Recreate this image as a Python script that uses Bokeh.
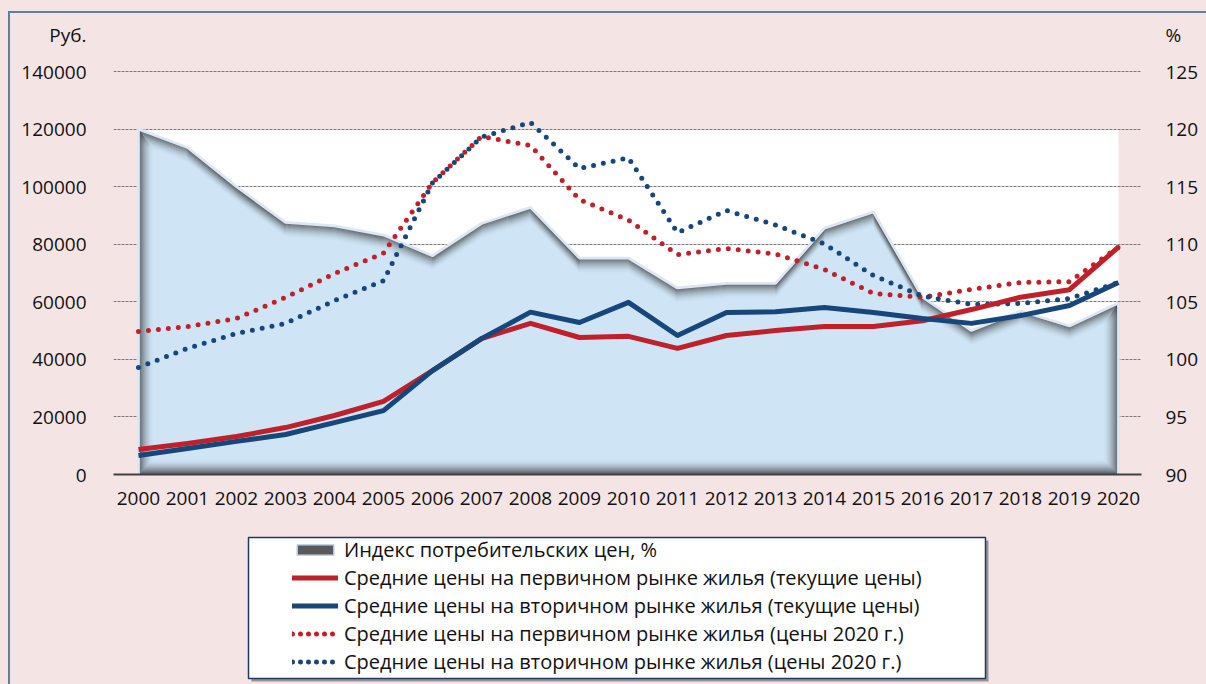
import numpy as np
from bokeh.plotting import figure
from bokeh.layouts import column
from bokeh.models import (Range1d, LinearAxis, FixedTicker, Legend, LegendItem, BasicTickFormatter)
from bokeh.embed import file_html
from bokeh.resources import INLINE

years = list(range(2000, 2021))
cpi = [120.0, 118.4, 115.0, 111.9, 111.6, 110.8, 109.0, 111.8, 113.2, 108.8, 108.8,
       106.2, 106.6, 106.6, 111.4, 112.8, 105.4, 102.5, 104.2, 102.9, 104.9]
prim_cur = [8700, 10800, 13200, 16300, 20500, 25400, 36100, 47200, 52500, 47600, 48000,
            43800, 48300, 50000, 51400, 51400, 53400, 57300, 61600, 64200, 79000]
sec_cur = [6600, 9000, 11500, 13900, 18000, 22200, 36100, 47200, 56400, 52800, 59800,
           48300, 56300, 56500, 58000, 56300, 54200, 52500, 55200, 58700, 66700]
prim_2020 = [49700, 51400, 54200, 61500, 69800, 76900, 101400, 117400, 114300, 95500, 88400,
             76400, 78500, 76600, 71200, 62900, 61600, 64300, 66700, 67000, 79000]
sec_2020 = [37200, 43800, 49000, 52500, 60400, 67300, 101300, 117200, 122300, 106300, 110000,
            84000, 91700, 86700, 80100, 69100, 62000, 59100, 59400, 61100, 66700]
left_ticks = [0, 20000, 40000, 60000, 80000, 100000, 120000, 140000]
right_ticks = [90, 95, 100, 105, 110, 115, 120, 125]
left_unit = "Руб."
right_unit = "%"
labels = ["Индекс потребительских цен, %",
          "Средние цены на первичном рынке жилья (текущие цены)",
          "Средние цены на вторичном рынке жилья (текущие цены)",
          "Средние цены на первичном рынке жилья (цены 2020 г.)",
          "Средние цены на вторичном рынке жилья (цены 2020 г.)"]

PINK = "#F5E4E4"
RED = "#C0202A"
BLUE = "#17467A"
FRAME = "#5F7EA3"
FONT = "Open Sans"

W = 1206
H1 = 530
LEFT, RIGHT = 113, 1141     # frame left / right in pixels
TOP, BOT = 14, 474          # frame top / bottom in pixels
px_val = left_ticks[-1] / 403.0
y_end = (BOT - TOP) * px_val
unit_val = (BOT - 34) * px_val
cpi_scale = (right_ticks[-1] - right_ticks[0]) / left_ticks[-1]

p = figure(width=W, height=H1, output_backend="svg", toolbar_location=None,
           x_range=Range1d(1999.49, 2020.47), y_range=Range1d(0, y_end),
           min_border_left=LEFT, min_border_right=W - RIGHT, min_border_top=TOP,
           min_border_bottom=H1 - BOT)
p.extra_y_ranges = {"cpi": Range1d(right_ticks[0], right_ticks[0] + y_end * cpi_scale)}
p.background_fill_color = PINK
p.border_fill_alpha = 0
p.outline_line_color = None
p.xgrid.visible = False
p.ygrid.ticker = FixedTicker(ticks=left_ticks)
p.ygrid.grid_line_color = "#7A7A7A"
p.ygrid.grid_line_dash = "3 1"
p.ygrid.grid_line_width = 1

# white plot area (behind grid)
p.quad(left=[years[0]], right=[years[-1]], bottom=[0], top=[left_ticks[-2]],
       fill_color="white", line_color=None, level="image")

# CPI area
base = right_ticks[0]
p.varea(x=years, y1=[base] * len(years), y2=cpi, y_range_name="cpi", fill_color="#CFE5F5")

# inner shadow of the area
pxc = px_val * cpi_scale
pxx = 1 / 49.0
N = 15
for i in range(1, N + 1):
    a = 0.58 * (1 - (i - 1) / float(N)) ** 2
    p.line(years, [c - i * pxc for c in cpi], y_range_name="cpi",
           line_color="#2A2A2A", line_alpha=a, line_width=1.3)
    xl = years[0] + i * pxx
    xr = years[-1] - i * pxx
    p.segment(x0=[xl, xr, years[0] + i * pxx], y0=[base + i * pxc, base + i * pxc, base + i * pxc],
              x1=[xl, xr, years[-1] - i * pxx],
              y1=[float(np.interp(xl, years, cpi)) - i * pxc,
                  float(np.interp(xr, years, cpi)) - i * pxc,
                  base + i * pxc],
              y_range_name="cpi", line_color="#2A2A2A", line_alpha=a, line_width=1.3)

p.line([years[0]] + years + [years[-1]], [base] + cpi + [base],
       y_range_name="cpi", line_color="#DDE6F3", line_width=2.8)

# price lines
p.line(years, prim_2020, line_color=RED, line_width=5, line_dash="0 10", line_cap="round")
p.line(years, sec_2020, line_color=BLUE, line_width=5, line_dash="0 10", line_cap="round")
p.line(years, prim_cur, line_color=RED, line_width=5, line_join="round")
p.line(years, sec_cur, line_color=BLUE, line_width=5, line_join="round")

# axes
p.yaxis.ticker = FixedTicker(ticks=left_ticks + [unit_val])
p.yaxis.formatter = BasicTickFormatter(use_scientific=False)
p.yaxis.major_label_overrides = {unit_val: left_unit}
cpi_unit = base + unit_val * cpi_scale
ra = LinearAxis(y_range_name="cpi", ticker=FixedTicker(ticks=right_ticks + [cpi_unit]))
ra.major_label_overrides = {cpi_unit: right_unit}
p.add_layout(ra, "right")
for ax in (p.yaxis[0], ra):
    ax.axis_line_color = None
    ax.major_tick_line_color = None
    ax.minor_tick_line_color = None
    ax.major_label_text_font = FONT
    ax.major_label_text_font_size = "19px"
    ax.major_label_text_color = "#111111"
p.yaxis[0].major_label_standoff = 21
ra.major_label_standoff = 18
p.xaxis.ticker = FixedTicker(ticks=years)
p.xaxis.axis_line_color = "#404040"
p.xaxis.axis_line_width = 2
p.xaxis.major_tick_line_color = None
p.xaxis.minor_tick_line_color = None
p.xaxis.major_label_standoff = 11
p.xaxis.major_label_text_font = FONT
p.xaxis.major_label_text_font_size = "19px"
p.xaxis.major_label_text_color = "#111111"

# legend figure (data units = pixels)
H2 = 684 - H1
q = figure(width=W, height=H2, output_backend="svg", toolbar_location=None,
           x_range=Range1d(LEFT, RIGHT), y_range=Range1d(H2, 0),
           x_axis_type=None, y_axis_type=None,
           min_border_left=LEFT, min_border_right=W - RIGHT, min_border_top=0, min_border_bottom=0)
q.background_fill_alpha = 0
q.border_fill_alpha = 0
q.outline_line_color = None
q.grid.visible = False
q.quad(left=[251], right=[988], top=[10], bottom=[151], fill_color="#7F7F7F", fill_alpha=0.8, line_color=None)
q.quad(left=[248], right=[985], top=[7], bottom=[148], fill_color="white", line_color="#1F3864", line_width=1.5)

# legend renderers: a single point placed outside the visible frame
off = [0, 1]
g0 = q.quad(left=[0], right=[1], top=[0], bottom=[1], fill_color="#5A5A5A", line_color="#C5D5E8", line_width=1.5)
g1 = q.line(off, [0, 0], line_color=RED, line_width=5, line_cap="round")
g2 = q.line(off, [0, 0], line_color=BLUE, line_width=5, line_cap="round")
g3 = q.line(off, [0, 0], line_color=RED, line_width=5, line_dash="0 8", line_cap="round")
g4 = q.line(off, [0, 0], line_color=BLUE, line_width=5, line_dash="0 8", line_cap="round")
legend = Legend(items=[LegendItem(label=l, renderers=[r]) for l, r in zip(labels, [g0, g1, g2, g3, g4])],
                location=(292 - LEFT, 9), orientation="vertical",
                glyph_width=46, glyph_height=13, label_height=20, spacing=1,
                label_standoff=6, padding=0, margin=0,
                background_fill_alpha=0, border_line_color=None,
                label_text_font=FONT, label_text_font_size="20px", label_text_color="#111111")
q.add_layout(legend, "center")

layout = column(p, q, spacing=0, styles={
    "background-color": PINK,
    "background-image": "linear-gradient(%s,%s), linear-gradient(%s,%s)" % (FRAME, FRAME, FRAME, FRAME),
    "background-size": "2px 100%, 100% 2px",
    "background-position": "8px 11px, 8px 11px",
    "background-repeat": "no-repeat",
})

open("out.html", "w").write(file_html(layout, INLINE))
